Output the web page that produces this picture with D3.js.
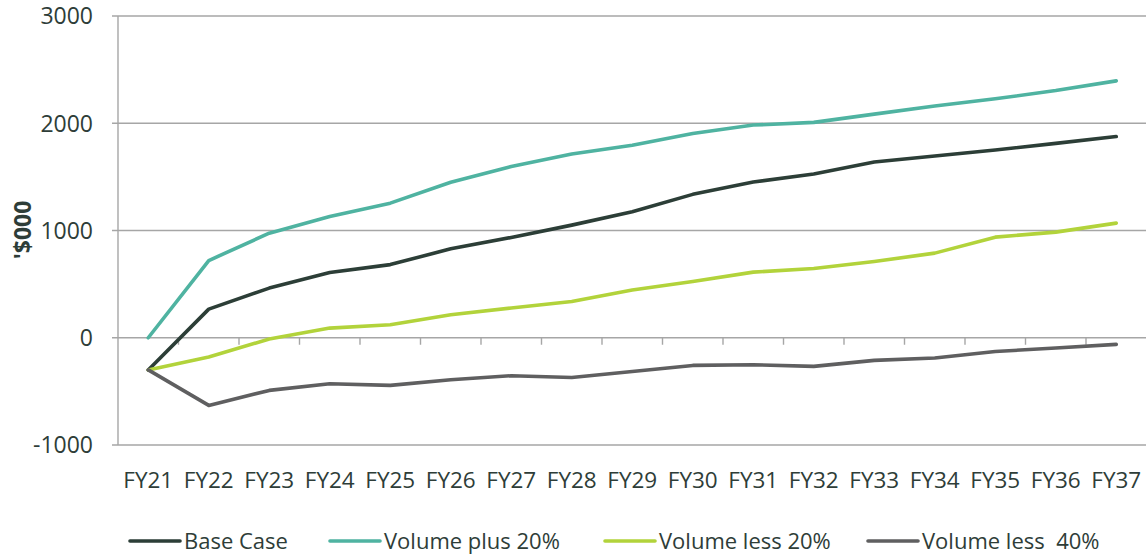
<!DOCTYPE html>
<html>
<head>
<meta charset="utf-8">
<script src="https://cdn.jsdelivr.net/npm/d3@7"></script>
<style>
  html, body { margin: 0; padding: 0; background: #fff; }
  svg { display: block; }
  text { font-family: "Open Sans", sans-serif; fill: #2e3d38; white-space: pre; }
</style>
</head>
<body>
<svg id="chart" width="1146" height="555"></svg>
<script>
// Fiscal years on the category axis
const years = ["FY21","FY22","FY23","FY24","FY25","FY26","FY27","FY28","FY29",
               "FY30","FY31","FY32","FY33","FY34","FY35","FY36","FY37"];

// Cumulative position per scenario, '$000
const baseCase   = [-300, 267, 463, 609, 682, 829, 935, 1050, 1175, 1337, 1452, 1527, 1638, 1694, 1750, 1812, 1876];
const volPlus20  = [0, 720, 975, 1130, 1255, 1450, 1597, 1713, 1795, 1905, 1983, 2008, 2085, 2160, 2228, 2305, 2395];
const volLess20  = [-300, -180, -12, 90, 121, 214, 277, 338, 445, 525, 612, 645, 711, 789, 938, 985, 1069];
const volLess40  = [-300, -631, -491, -429, -444, -391, -354, -370, -314, -258, -252, -267, -211, -189, -128, -96, -62];

// Axis ticks
const yTicks = [-1000, 0, 1000, 2000, 3000];

const seriesNames  = ["Base Case", "Volume plus 20%", "Volume less 20%", "Volume less  40%"];
const seriesValues = [baseCase, volPlus20, volLess20, volLess40];
const seriesColors = ["#2c3e37", "#4fb3a1", "#b2d33b", "#5f5f60"];

const svg = d3.select("#chart");
const plot = { left: 118, right: 1146.5, top: 16, bottom: 445 };

const x = d3.scaleBand().domain(years).range([plot.left, plot.right]);
const y = d3.scaleLinear().domain([-1000, 3000]).range([plot.bottom, plot.top]);

// Horizontal gridlines
svg.append("g")
  .selectAll("line")
  .data(yTicks)
  .join("line")
  .attr("x1", plot.left - 6)
  .attr("x2", 1146)
  .attr("y1", d => y(d))
  .attr("y2", d => y(d))
  .attr("stroke", "#a6a6a6")
  .attr("stroke-width", 1.4);

// Vertical value axis line
svg.append("line")
  .attr("x1", plot.left).attr("x2", plot.left)
  .attr("y1", plot.top).attr("y2", plot.bottom)
  .attr("stroke", "#a6a6a6").attr("stroke-width", 1.4);

// Category tick marks hang from the zero line, between categories
const boundaries = years.map(d => x(d) + x.bandwidth()).slice(0, -1);
svg.append("g")
  .selectAll("line")
  .data(boundaries)
  .join("line")
  .attr("x1", d => d).attr("x2", d => d)
  .attr("y1", y(0)).attr("y2", y(0) + 7)
  .attr("stroke", "#a6a6a6").attr("stroke-width", 1.4);

// Value tick labels
svg.append("g")
  .selectAll("text")
  .data(yTicks)
  .join("text")
  .attr("x", 93)
  .attr("y", d => y(d))
  .attr("dy", "0.36em")
  .attr("text-anchor", "end")
  .attr("font-size", 23)
  .text(d => d);

// Category labels
svg.append("g")
  .selectAll("text")
  .data(years)
  .join("text")
  .attr("x", d => x(d) + x.bandwidth() / 2)
  .attr("y", 488)
  .attr("text-anchor", "middle")
  .attr("font-size", 22.5)
  .text(d => d);

// Value axis title
svg.append("text")
  .attr("transform", "translate(31,230) rotate(-90)")
  .attr("text-anchor", "middle")
  .attr("font-size", 23)
  .attr("font-weight", "bold")
  .text("'$000");

// Scenario lines
const line = d3.line()
  .x((d, i) => x(years[i]) + x.bandwidth() / 2)
  .y(d => y(d));

svg.append("g")
  .selectAll("path")
  .data(seriesValues)
  .join("path")
  .attr("d", line)
  .attr("fill", "none")
  .attr("stroke", (d, i) => seriesColors[i])
  .attr("stroke-width", 3.6)
  .attr("stroke-linejoin", "round")
  .attr("stroke-linecap", "round");

// Legend
const legendX = [130, 330, 605, 868];
const legend = svg.append("g")
  .selectAll("g")
  .data(seriesNames)
  .join("g")
  .attr("transform", (d, i) => `translate(${legendX[i]},541)`);

legend.append("line")
  .attr("x1", 0).attr("x2", 50)
  .attr("stroke", (d, i) => seriesColors[i])
  .attr("stroke-width", 3.6)
  .attr("stroke-linecap", "round");

legend.append("text")
  .attr("x", 54)
  .attr("y", 7.5)
  .attr("font-size", 22)
  .text(d => d);
</script>
</body>
</html>
